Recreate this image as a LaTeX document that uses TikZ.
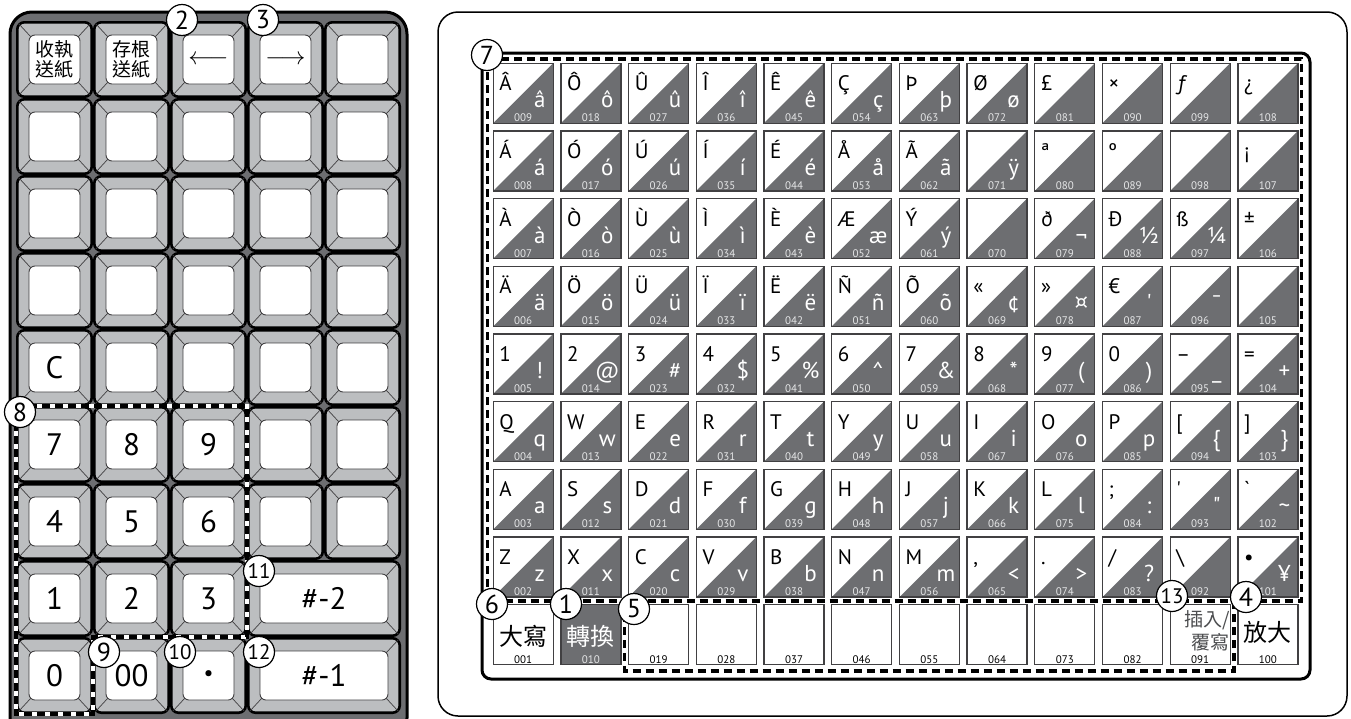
\documentclass[tikz,border=0pt]{standalone}
\usepackage{fontspec}
\usepackage{tikz}
\usetikzlibrary{calc}
\newfontfamily\keyfont{PT Sans}
\newfontfamily\cjkfont{Noto Sans CJK TC}
\definecolor{keydark}{HTML}{6D6E71}
\definecolor{rimgray}{HTML}{BCBEC0}
\definecolor{framegray}{HTML}{6D6E71}
\definecolor{edgegray}{HTML}{414042}
\definecolor{numlight}{HTML}{E6E7E8}
\tikzset{
  padrim/.style={draw=black,fill=rimgray,line width=2.6pt,rounded corners=7pt},
  bevel/.style={draw=edgegray,line width=0.7pt},
  padface/.style={draw=edgegray,fill=white,line width=0.9pt,rounded corners=6pt,inner sep=0pt,
    align=center,font=\keyfont\fontsize{31}{31}\selectfont},
  padcjk/.style={font=\cjkfont\fontsize{19}{20}\selectfont},
  charkey/.style={draw=edgegray,fill=white,line width=1.3pt,minimum size=60pt,inner sep=0pt,
    path picture={\fill[keydark] (path picture bounding box.south west) --
      (path picture bounding box.north east) -- (path picture bounding box.south east) -- cycle;}},
  upchar/.style={anchor=base west,inner sep=0pt,font=\keyfont\fontsize{21}{21}\selectfont},
  lochar/.style={anchor=base,inner sep=0pt,text=white,font=\keyfont\fontsize{23}{23}\selectfont},
  keynum/.style={anchor=base,inner sep=0pt,text=numlight,font=\keyfont\fontsize{11}{11}\selectfont},
  plainkey/.style={draw=edgegray,fill=white,line width=1.3pt,minimum size=60pt,inner sep=0pt},
  keycjk/.style={anchor=base,inner sep=0pt,font=\cjkfont\fontsize{24}{24}\selectfont},
  callout/.style={circle,draw=black,fill=white,line width=1.2pt,minimum size=31pt,inner sep=0pt,
    font=\keyfont\fontsize{26}{26}\selectfont},
  callouttwo/.style={callout,font=\keyfont\fontsize{21}{21}\selectfont},
  dashbase/.style={draw=white,line width=3.5pt},
  dashline/.style={draw=black,line width=3.5pt,dash pattern=on 8pt off 5pt}
}
\newcommand{\threedig}[1]{\ifnum#1<10 00\else\ifnum#1<100 0\fi\fi#1}
% key of the numeric pad: [style]{name}{col}{row}{span}{text}
\newcommand{\padkey}[6][]{%
  \pgfmathsetmacro{\pxa}{16+77*#3}%
  \pgfmathsetmacro{\pya}{21+77*#4}%
  \pgfmathsetmacro{\pxb}{16+77*(#3+#5)}%
  \pgfmathsetmacro{\pyb}{\pya+77}%
  \pgfmathsetmacro{\pfw}{\pxb-\pxa-26}%
  \draw[padrim] (\pxa+1.3,\pya+1.3) rectangle (\pxb-1.3,\pyb-1.3);
  \draw[bevel] (\pxa+2.6,\pya+2.6) -- (\pxa+14.8,\pya+15.8)
    (\pxb-2.6,\pya+2.6) -- (\pxb-14.8,\pya+15.8)
    (\pxa+2.6,\pyb-2.6) -- (\pxa+14.8,\pyb-15.8)
    (\pxb-2.6,\pyb-2.6) -- (\pxb-14.8,\pyb-15.8);
  \node[padface,#1,minimum width=\pfw pt,minimum height=49pt] (#2)
    at ({(\pxa+\pxb)/2},{(\pya+\pyb)/2}) {#6};
}
% character key: {col}{row}{upper}{lower}
\newcommand{\charkey}[4]{%
  \pgfmathsetmacro{\kx}{492.7+67.7*#1}%
  \pgfmathsetmacro{\ky}{62.7+67.7*#2}%
  \pgfmathtruncatemacro{\kn}{9*#1+9-#2}%
  \node[charkey] (k#1-#2) at (\kx+30.5,\ky+30.5) {};
  \node[upchar] (k#1-#2-up) at (\kx+6.5,\ky+28) {#3};
  \node[lochar] (k#1-#2-lo) at (\kx+47,\ky+45) {#4};
  \node[keynum] (k#1-#2-no) at (\kx+30.5,\ky+59) {\threedig{\kn}};
}

\begin{document}
\begin{tikzpicture}[x=1pt,y=-1pt]
  \useasboundingbox (0,0) rectangle (1351,718);
  \clip (0,0) rectangle (1351,718);

  % numeric pad
  \draw[draw=black,fill=framegray,line width=3pt,rounded corners=22pt] (10,12) rectangle (407,740);
  \padkey[padcjk]{pad-0-0}{0}{0}{1}{收執\\送紙}
  \padkey[padcjk]{pad-0-1}{1}{0}{1}{存根\\送紙}
  \padkey[font=\fontsize{23}{23}\selectfont]{pad-0-2}{2}{0}{1}{$\longleftarrow$}
  \padkey[font=\fontsize{23}{23}\selectfont]{pad-0-3}{3}{0}{1}{$\longrightarrow$}
  \padkey{pad-0-4}{4}{0}{1}{}
  \foreach \r in {1,2,3}{
    \foreach \c in {0,...,4}{
      \padkey{pad-\r-\c}{\c}{\r}{1}{}
    }
  }
  \padkey{pad-4-0}{0}{4}{1}{C}
  \foreach \c in {1,...,4}{\padkey{pad-4-\c}{\c}{4}{1}{}}
  \padkey{pad-5-0}{0}{5}{1}{7}
  \padkey{pad-5-1}{1}{5}{1}{8}
  \padkey{pad-5-2}{2}{5}{1}{9}
  \padkey{pad-5-3}{3}{5}{1}{}
  \padkey{pad-5-4}{4}{5}{1}{}
  \padkey{pad-6-0}{0}{6}{1}{4}
  \padkey{pad-6-1}{1}{6}{1}{5}
  \padkey{pad-6-2}{2}{6}{1}{6}
  \padkey{pad-6-3}{3}{6}{1}{}
  \padkey{pad-6-4}{4}{6}{1}{}
  \padkey{pad-7-0}{0}{7}{1}{1}
  \padkey{pad-7-1}{1}{7}{1}{2}
  \padkey{pad-7-2}{2}{7}{1}{3}
  \padkey{pad-7-3}{3}{7}{2}{\#-2}
  \padkey{pad-8-0}{0}{8}{1}{0}
  \padkey{pad-8-1}{1}{8}{1}{00}
  \padkey{pad-8-2}{2}{8}{1}{{\fontsize{22}{22}\selectfont •}}
  \padkey{pad-8-3}{3}{8}{2}{\#-1}
  \draw[dashbase] (16,406) -- (247,406) -- (247,637) -- (93,637) -- (93,714) -- (16,714) -- cycle;
  \draw[dashline] (16,406) -- (247,406) -- (247,637) -- (93,637) -- (93,714) -- (16,714) -- cycle;

  % character keyboard
  \draw[line width=1.5pt,rounded corners=20pt] (438,12) rectangle (1347,716);
  \draw[line width=3pt,rounded corners=9pt] (482,53) rectangle (1310,679);

  \charkey{0}{0}{Â}{â}\charkey{1}{0}{Ô}{ô}\charkey{2}{0}{Û}{û}\charkey{3}{0}{Î}{î}
  \charkey{4}{0}{Ê}{ê}\charkey{5}{0}{Ç}{ç}\charkey{6}{0}{Þ}{þ}\charkey{7}{0}{Ø}{ø}
  \charkey{8}{0}{£}{}\charkey{9}{0}{×}{}\charkey{10}{0}{ƒ}{}\charkey{11}{0}{¿}{}

  \charkey{0}{1}{Á}{á}\charkey{1}{1}{Ó}{ó}\charkey{2}{1}{Ú}{ú}\charkey{3}{1}{Í}{í}
  \charkey{4}{1}{É}{é}\charkey{5}{1}{Å}{å}\charkey{6}{1}{Ã}{ã}\charkey{7}{1}{}{ÿ}
  \charkey{8}{1}{ª}{}\charkey{9}{1}{º}{}\charkey{10}{1}{}{}\charkey{11}{1}{¡}{}

  \charkey{0}{2}{À}{à}\charkey{1}{2}{Ò}{ò}\charkey{2}{2}{Ù}{ù}\charkey{3}{2}{Ì}{ì}
  \charkey{4}{2}{È}{è}\charkey{5}{2}{Æ}{æ}\charkey{6}{2}{Ý}{ý}\charkey{7}{2}{}{}
  \charkey{8}{2}{ð}{¬}\charkey{9}{2}{Ð}{½}\charkey{10}{2}{ß}{¼}\charkey{11}{2}{±}{}

  \charkey{0}{3}{Ä}{ä}\charkey{1}{3}{Ö}{ö}\charkey{2}{3}{Ü}{ü}\charkey{3}{3}{Ï}{ï}
  \charkey{4}{3}{Ë}{ë}\charkey{5}{3}{Ñ}{ñ}\charkey{6}{3}{Õ}{õ}\charkey{7}{3}{«}{¢}
  \charkey{8}{3}{»}{¤}\charkey{9}{3}{€}{'}\charkey{10}{3}{}{¯}\charkey{11}{3}{}{}

  \charkey{0}{4}{1}{!}\charkey{1}{4}{2}{@}\charkey{2}{4}{3}{\#}\charkey{3}{4}{4}{\$}
  \charkey{4}{4}{5}{\%}\charkey{5}{4}{6}{\textasciicircum}\charkey{6}{4}{7}{\&}\charkey{7}{4}{8}{*}
  \charkey{8}{4}{9}{(}\charkey{9}{4}{0}{)}\charkey{10}{4}{–}{\_}\charkey{11}{4}{=}{+}

  \charkey{0}{5}{Q}{q}\charkey{1}{5}{W}{w}\charkey{2}{5}{E}{e}\charkey{3}{5}{R}{r}
  \charkey{4}{5}{T}{t}\charkey{5}{5}{Y}{y}\charkey{6}{5}{U}{u}\charkey{7}{5}{I}{i}
  \charkey{8}{5}{O}{o}\charkey{9}{5}{P}{p}\charkey{10}{5}{[}{\{}\charkey{11}{5}{]}{\}}

  \charkey{0}{6}{A}{a}\charkey{1}{6}{S}{s}\charkey{2}{6}{D}{d}\charkey{3}{6}{F}{f}
  \charkey{4}{6}{G}{g}\charkey{5}{6}{H}{h}\charkey{6}{6}{J}{j}\charkey{7}{6}{K}{k}
  \charkey{8}{6}{L}{l}\charkey{9}{6}{;}{:}\charkey{10}{6}{'}{"}\charkey{11}{6}{`}{\textasciitilde}

  \charkey{0}{7}{Z}{z}\charkey{1}{7}{X}{x}\charkey{2}{7}{C}{c}\charkey{3}{7}{V}{v}
  \charkey{4}{7}{B}{b}\charkey{5}{7}{N}{n}\charkey{6}{7}{M}{m}\charkey{7}{7}{,}{<}
  \charkey{8}{7}{.}{>}\charkey{9}{7}{/}{?}\charkey{10}{7}{\textbackslash}{}\charkey{11}{7}{•}{¥}

  % bottom row
  \foreach \c in {0,2,3,...,11}{
    \pgfmathsetmacro{\kx}{492.7+67.7*\c}
    \pgfmathtruncatemacro{\kn}{9*\c+1}
    \node[plainkey] (b\c) at (\kx+30.5,634.8) {};
    \node[keynum,text=black] (b\c-no) at (\kx+30.5,663.3) {\threedig{\kn}};
  }
  \node[plainkey,fill=keydark] (b1) at (590.9,634.8) {};
  \node[keynum] (b1-no) at (590.9,663.3) {010};
  \node[keycjk] (b0-txt) at (523.2,645) {大寫};
  \node[keycjk,text=white] (b1-txt) at (590.9,645) {轉換};
  \node[anchor=north east,inner sep=0pt,align=right,text=keydark!70!black,
    font=\cjkfont\fontsize{19}{23}\selectfont] (b10-txt) at (1230,610) {插入/\\覆寫};
  \node[keycjk] (b11-txt) at (1267.9,641) {放大};

  % dashed groups
  \draw[dashline] (487.5,59) rectangle (1301.5,601);
  \draw[dashline] (624.7,601) -- (624.7,671) -- (1234,671) -- (1234,601);

  % callouts
  \node[callout] (n2) at (182,20) {2};
  \node[callout] (n3) at (263,20) {3};
  \node[callout] (n8) at (20,412) {8};
  \node[callout] (n9) at (104,652) {9};
  \node[callouttwo] (n10) at (180,652) {10};
  \node[callouttwo] (n11) at (259,571) {11};
  \node[callouttwo] (n12) at (259,652) {12};
  \node[callout] (n7) at (487,55) {7};
  \node[callout] (n6) at (492,604) {6};
  \node[callout] (n1) at (566,604) {1};
  \node[callout] (n5) at (634,609) {5};
  \node[callouttwo] (n13) at (1172,596) {13};
  \node[callout] (n4) at (1246,597) {4};
\end{tikzpicture}
\end{document}
